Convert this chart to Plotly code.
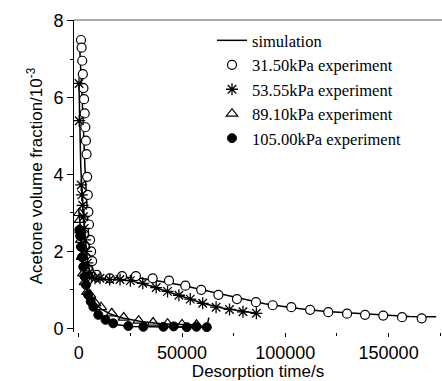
import plotly.graph_objects as go

# ---- experimental data (time s, volume fraction 10^-3) ----
p1_x = [1100, 1400, 1700, 2000, 2300, 2600, 2900, 3200, 3500, 3800, 4100, 4400, 4700, 5000, 5500,
        6000, 6500, 8700, 15100, 21000, 27700, 35800, 43700, 51600, 59300, 67600, 76600, 85800,
        93900, 102900, 112000, 120800, 129900, 138600, 147400, 156500, 166000]
p1_y = [7.50, 7.30, 6.96, 6.61, 6.25, 5.96, 5.59, 5.23, 4.88, 4.53, 3.94, 3.47, 3.03, 2.70, 2.30,
        2.00, 1.75, 1.39, 1.30, 1.36, 1.36, 1.30, 1.24, 1.11, 1.00, 0.87, 0.76, 0.68,
        0.60, 0.55, 0.48, 0.42, 0.38, 0.35, 0.33, 0.29, 0.26]

p2_x = [150, 250, 1200, 1500, 1900, 2300, 2700, 3100, 3600, 4200, 5000, 6200, 7900, 10300, 15000,
        20000, 25000, 31000, 37500, 43000, 48500, 54000, 60000, 66500, 73000, 79500, 86000]
p2_y = [6.37, 5.40, 3.73, 3.47, 3.20, 2.90, 2.60, 2.30, 2.00, 1.70, 1.45, 1.32, 1.30, 1.30, 1.27,
        1.27, 1.24, 1.17, 1.06, 0.96, 0.86, 0.76, 0.65, 0.55, 0.49, 0.43, 0.39]

p3_x = [300, 600, 900, 1200, 1600, 2200, 3000, 4200, 5500, 8000, 10800, 16000, 21800, 29000,
        36000, 43000, 50000, 57000]
p3_y = [3.00, 2.82, 2.55, 2.30, 1.86, 1.43, 1.20, 0.95, 0.87, 0.65, 0.55, 0.39, 0.28, 0.20,
        0.15, 0.12, 0.10, 0.09]

p4_x = [300, 700, 1100, 1600, 2200, 2800, 3500, 4600, 5800, 7100, 9500, 13000, 16700, 24000,
        31300, 41000, 46000, 52300, 57000, 62000]
p4_y = [2.56, 2.40, 2.12, 1.85, 1.60, 1.35, 1.13, 0.87, 0.70, 0.56, 0.35, 0.22, 0.13, 0.06,
        0.04, 0.04, 0.05, 0.03, 0.04, 0.03]

# ---- simulation curves ----
s1_x = [300, 1000, 2000, 3000, 4000, 5000, 6000, 7500, 10000, 15000, 20000, 25000, 30000, 40000,
        50000, 60000, 70000, 80000, 90000, 100000, 110000, 120000, 130000, 140000, 150000,
        160000, 173000]
s1_y = [7.50, 6.80, 5.60, 4.20, 3.00, 2.20, 1.70, 1.40, 1.30, 1.30, 1.32, 1.32, 1.30, 1.22,
        1.12, 1.00, 0.88, 0.74, 0.64, 0.56, 0.49, 0.44, 0.40, 0.37, 0.34, 0.31, 0.30]

s2_x = [100, 500, 1000, 2000, 3000, 4000, 5000, 6500, 8000, 10000, 15000, 20000, 25000, 30000,
        35000, 40000, 50000, 60000, 70000, 80000, 86000]
s2_y = [6.40, 5.40, 4.20, 3.20, 2.40, 1.90, 1.55, 1.35, 1.28, 1.26, 1.27, 1.27, 1.24, 1.18,
        1.10, 1.01, 0.82, 0.65, 0.52, 0.43, 0.39]

s3_x = [0, 500, 1000, 2000, 3000, 4000, 6000, 8000, 11000, 15000, 20000, 30000, 40000, 50000, 57000]
s3_y = [3.10, 2.80, 2.40, 1.70, 1.30, 1.05, 0.78, 0.62, 0.50, 0.38, 0.28, 0.18, 0.12, 0.10, 0.09]

s4_x = [0, 500, 1000, 2000, 3000, 4000, 6000, 8000, 10000, 14000, 18000, 25000, 35000, 45000,
        55000, 62000, 63000]
s4_y = [2.70, 2.45, 2.20, 1.70, 1.30, 1.00, 0.65, 0.45, 0.32, 0.17, 0.10, 0.05, 0.04, 0.03,
        0.03, 0.04, 0.28]

legend_names = ["simulation", "31.50kPa experiment", "53.55kPa experiment",
                "89.10kPa experiment", "105.00kPa experiment"]

fig = go.Figure()
line_style = dict(color="black", width=1.5)
for i, (sx, sy) in enumerate([(s1_x, s1_y), (s2_x, s2_y), (s3_x, s3_y), (s4_x, s4_y)]):
    fig.add_trace(go.Scatter(x=sx, y=sy, mode="lines", line=line_style,
                             name=legend_names[0], legendgroup="sim",
                             showlegend=(i == 0)))

mk_styles = [
    dict(symbol="circle", size=9, color="white", line=dict(color="black", width=1.2)),
    dict(symbol="asterisk-open", size=10, color="black", line=dict(color="black", width=1.3)),
    dict(symbol="triangle-up-open", size=10, color="black", line=dict(color="black", width=1.2)),
    dict(symbol="circle", size=9, color="black", line=dict(color="black", width=1)),
]
for (px, py), mk, nm in zip([(p1_x, p1_y), (p2_x, p2_y), (p3_x, p3_y), (p4_x, p4_y)],
                            mk_styles, legend_names[1:]):
    fig.add_trace(go.Scatter(x=px, y=py, mode="markers", marker=mk, name=nm))

axis_font = dict(family="Liberation Sans, Arial, sans-serif", size=18, color="black")
fig.update_layout(
    width=442, height=381,
    margin=dict(l=74, r=0, t=20, b=49),
    plot_bgcolor="white", paper_bgcolor="white",
    showlegend=True,
    legend=dict(x=0.375, y=0.99, xanchor="left", yanchor="top",
                font=dict(family="Liberation Serif, Times New Roman, serif", size=16.5, color="black"),
                bgcolor="rgba(0,0,0,0)", tracegroupgap=0, itemwidth=30),
    xaxis=dict(range=[-2275, 175840], tickvals=[0, 50000, 100000, 150000],
               ticktext=["0", "50000", "100000", "150000"],
               showgrid=False, zeroline=False, showline=False,
               ticks="outside", ticklen=4, tickcolor="black", tickwidth=1,
               minor=dict(tickvals=[25000, 75000, 125000, 175000], ticks="outside",
                          ticklen=3, tickcolor="black"),
               tickfont=axis_font,
               title=dict(text="Desorption time/s", font=dict(family="Liberation Sans, Arial", size=17,
                                                            color="black"), standoff=2)),
    yaxis=dict(range=[-0.096, 8.02], tickvals=[0, 2, 4, 6, 8],
               showgrid=False, zeroline=False, showline=True, linecolor="black", linewidth=1,
               ticks="outside", ticklen=6, tickcolor="black", tickwidth=1,
               minor=dict(tickvals=[1, 3, 5, 7], ticks="outside", ticklen=3, tickcolor="black"),
               tickfont=axis_font,
               title=dict(text="Acetone volume fraction/10<sup>-3</sup>",
                          font=dict(family="Liberation Sans, Arial", size=17, color="black"),
                          standoff=6)),
)
fig.add_shape(type="line", xref="paper", yref="paper", x0=0, x1=1, y0=1, y1=1,
              line=dict(color="#555555", width=1))

fig.write_html("out.html")
